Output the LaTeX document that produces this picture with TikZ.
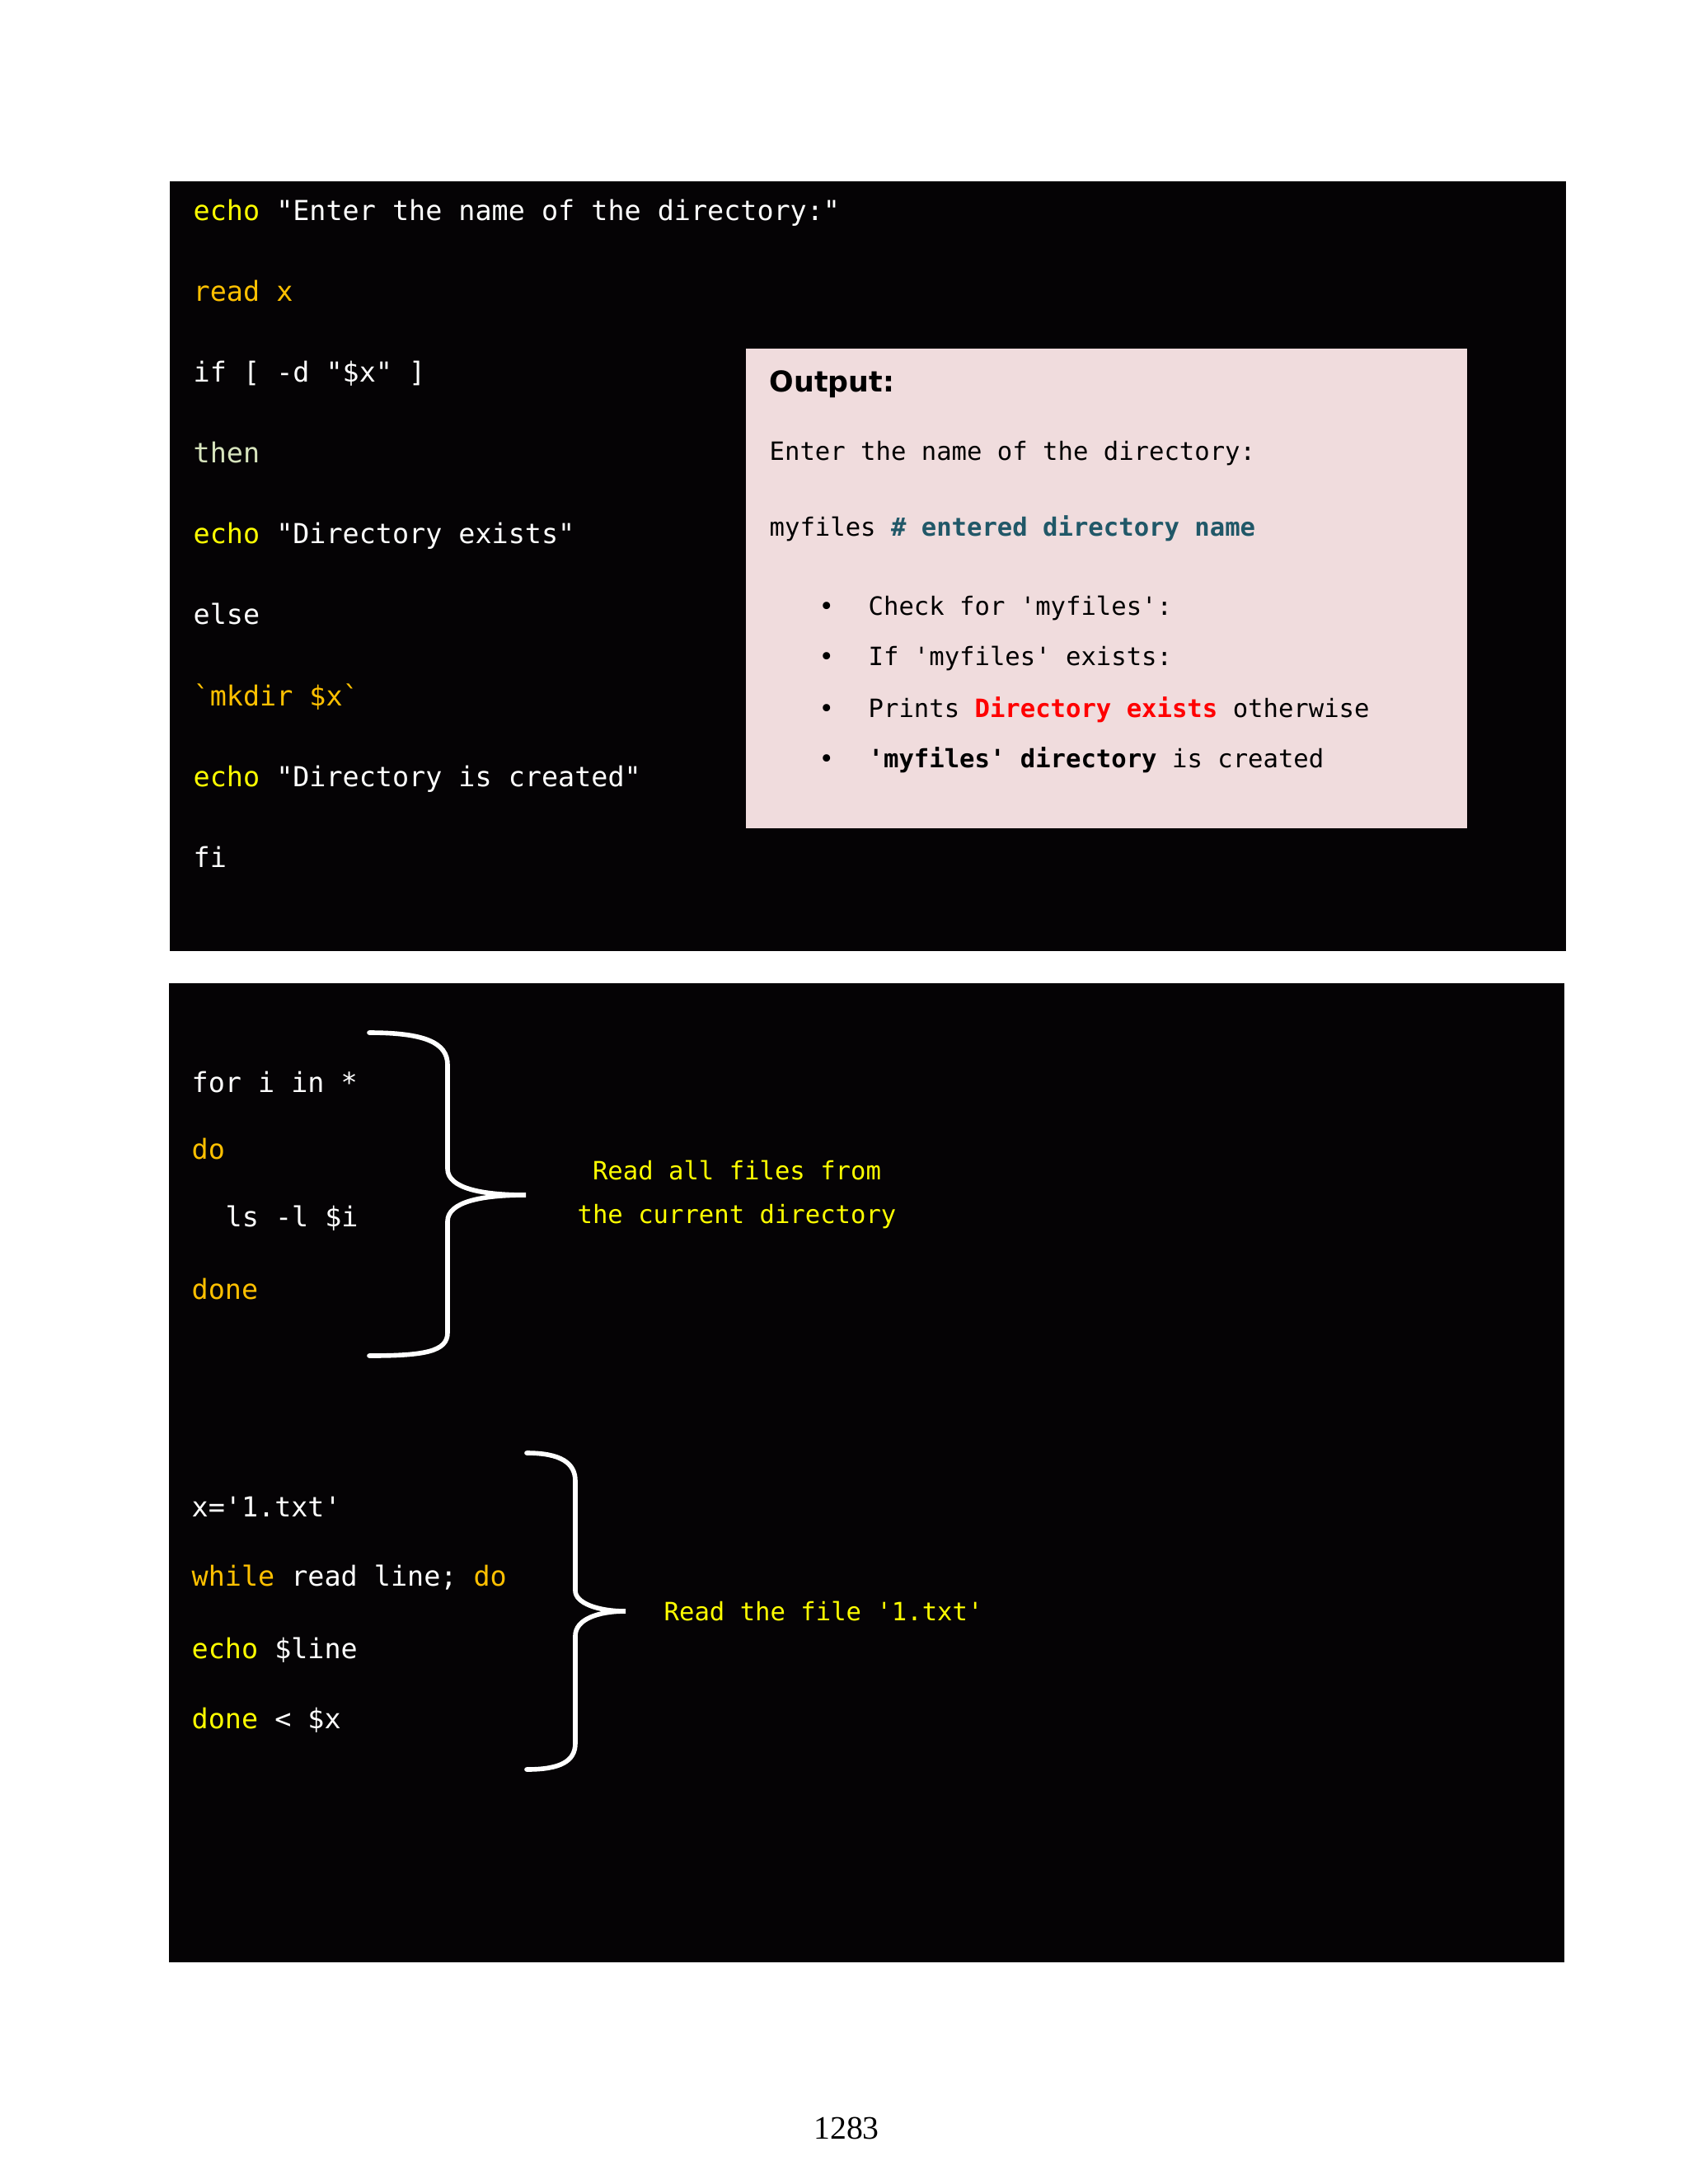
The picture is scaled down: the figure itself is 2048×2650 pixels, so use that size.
\documentclass[tikz,border=0pt]{standalone}
\usepackage{fontspec}
\setmainfont{Liberation Serif}
\setmonofont{DejaVu Sans Mono}
\newfontfamily\headfont{DejaVu Sans}
\usepackage{xcolor}
\usepackage{tikz}
\usetikzlibrary{positioning}

\definecolor{boxblack}{HTML}{050305}
\definecolor{outpink}{HTML}{F0DCDD}
\definecolor{kwyellow}{HTML}{FFFF00}
\definecolor{kwgold}{HTML}{FFC000}
\definecolor{kwpale}{HTML}{D7E4BD}
\definecolor{cmtteal}{HTML}{215868}
\definecolor{warnred}{HTML}{FF0000}

\tikzset{
  codeline/.style={anchor=base west, inner sep=0pt, text=white, font=\ttfamily\fontsize{9.5}{12}\selectfont},
  loopline/.style={anchor=base west, inner sep=0pt, text=white, font=\ttfamily\fontsize{9.5}{12}\selectfont},
  outline/.style={anchor=base west, inner sep=0pt, text=black, font=\ttfamily\fontsize{8.7}{11}\selectfont},
  note/.style={inner sep=0pt, text=kwyellow, font=\ttfamily\fontsize{8.7}{11}\selectfont},
  curly/.style={white, line width=1.6pt, line cap=round}
}

\begin{document}
\begin{tikzpicture}[x=0.01cm, y=-0.01cm]
\useasboundingbox (0,0) rectangle (2048,2650);
\fill[white] (0,0) rectangle (2048,2650);

% first box: if / else
\fill[boxblack] (206,220) rectangle (1900,1154);
\node[codeline] (echoA) at (234,267) {\textcolor{kwyellow}{echo} "Enter the name of the directory:"};
\node[codeline] (readx) at (234,365) {\textcolor{kwgold}{read x}};
\node[codeline] (iftest) at (234,463) {if [ -d "\$x" ]};
\node[codeline] (then) at (234,561) {\textcolor{kwpale}{then}};
\node[codeline] (echoB) at (234,659) {\textcolor{kwyellow}{echo} "Directory exists"};
\node[codeline] (else) at (234,757) {else};
\node[codeline] (mkdir) at (234,856) {\textcolor{kwgold}{`mkdir \$x`}};
\node[codeline] (echoC) at (234,954) {\textcolor{kwyellow}{echo} "Directory is created"};
\node[codeline] (fi) at (234,1052) {fi};

% output panel
\fill[outpink] (905,423) rectangle (1780,1005);
\node[anchor=base west, inner sep=0pt, font=\headfont\bfseries\fontsize{9.9}{12}\selectfont] (outhead) at (933,475) {Output:};
\node[outline] (outA) at (933,558) {Enter the name of the directory:};
\node[outline] (outB) at (933,650) {myfiles \textcolor{cmtteal}{\bfseries\# entered directory name}};
\foreach \yy/\nm/\txt in {746/bulA/{Check for 'myfiles':},
                          807/bulB/{If 'myfiles' exists:},
                          870/bulC/{Prints \textcolor{warnred}{\bfseries Directory exists} otherwise},
                          931/bulD/{\bfseries 'myfiles' directory\mdseries{} is created}} {
  \node[outline] at (993,\yy) {•};
  \node[outline] (\nm) at (1053,\yy) {\txt};
}

% second box: loops
\fill[boxblack] (205,1193) rectangle (1898,2381);
\node[loopline] (fori) at (232,1325) {for i in *};
\node[loopline] (doA) at (232,1406) {\textcolor{kwgold}{do}};
\node[loopline] (lsi) at (273,1488) {ls -l \$i};
\node[loopline] (doneA) at (232,1576) {\textcolor{kwgold}{done}};

\draw[curly] (448,1253) .. controls (515,1253) and (543,1265) .. (543,1292) -- (543,1418)
  .. controls (543,1442) and (585,1450) .. (638,1450)
  .. controls (585,1450) and (543,1458) .. (543,1482) -- (543,1617)
  .. controls (543,1640) and (515,1645) .. (448,1645);
\node[note] (noteA) at (894,1420) {Read all files from};
\node[note] (noteB) at (894,1476) {the current directory};

\node[loopline] (xset) at (232,1840) {x='1.txt'};
\node[loopline] (whl) at (232,1924) {\textcolor{kwgold}{while} read line; \textcolor{kwgold}{do}};
\node[loopline] (echoD) at (232,2012) {\textcolor{kwyellow}{echo} \$line};
\node[loopline] (doneB) at (232,2097) {\textcolor{kwyellow}{done} < \$x};

\draw[curly] (639,1763) .. controls (680,1763) and (698,1775) .. (698,1797) -- (698,1930)
  .. controls (698,1945) and (725,1955) .. (759,1955)
  .. controls (725,1955) and (698,1965) .. (698,1985) -- (698,2115)
  .. controls (698,2137) and (680,2147) .. (639,2147);
\node[note, anchor=west] (noteC) at (805,1955) {Read the file '1.txt'};

\node[font=\fontsize{11.3}{13}\selectfont] (pageno) at (1027,2582) {1283};
\end{tikzpicture}
\end{document}
